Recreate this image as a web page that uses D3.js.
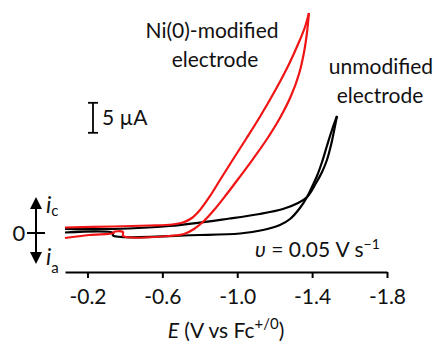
<!DOCTYPE html>
<html>
<head>
<meta charset="utf-8">
<script src="https://cdn.jsdelivr.net/npm/d3@7"></script>
<style>
  body { margin: 0; background: #fff; }
  svg text { font-family: Lato, "Open Sans", sans-serif; fill: #111; }
</style>
</head>
<body>
<svg id="chart" width="439" height="344"></svg>
<script>
// potential (V vs Fc+/0) and current (uA, cathodic positive)
const redForward = [[-0.08,0.92],[-0.34,1.08],[-0.53,1.25],[-0.652,1.42],[-0.71,1.75],[-0.758,2.5],[-0.801,3.83],[-0.855,6.17],[-0.908,8.83],[-0.972,12.0],[-1.047,15.67],[-1.127,19.67],[-1.207,24.0],[-1.277,28.17],[-1.33,31.83],[-1.362,34.33],[-1.383,36.67]]
const redReverse = [[-1.383,36.67],[-1.373,33.5],[-1.357,30.17],[-1.33,26.5],[-1.287,22.83],[-1.228,19.17],[-1.159,15.67],[-1.084,12.33],[-1.009,9.17],[-0.94,6.33],[-0.876,3.83],[-0.822,2.0],[-0.769,0.67],[-0.716,-0.17],[-0.641,-0.5],[-0.39,-0.5],[-0.39,0.17],[-0.34,0.17],[-0.34,0],[-0.21,-0.33],[-0.08,-0.83]]
const blackForward = [[-0.08,0.67],[-0.336,0.67],[-0.64,1.17],[-0.96,2.42],[-1.12,3.17],[-1.244,4.0],[-1.325,5.0],[-1.373,6.0],[-1.421,8.33],[-1.453,10.17],[-1.479,12.17],[-1.501,14.67],[-1.517,17.0],[-1.533,19.5]]
const blackReverse = [[-1.533,19.5],[-1.506,17.17],[-1.479,14.5],[-1.453,11.83],[-1.426,9.5],[-1.399,7.67],[-1.373,6.0],[-1.335,4.17],[-1.282,2.33],[-1.228,1.33],[-1.138,0.5],[-1.015,-0.08],[-0.80,-0.33],[-0.336,-0.42],[-0.336,0],[-0.08,0.08]]
const xTicks = [-0.2, -0.6, -1.0, -1.4, -1.8]

const svg = d3.select("#chart")

const x = d3.scaleLinear().domain([-0.08, -1.8]).range([65, 387])
const y = d3.scaleLinear().domain([-6.5, 37]).range([272, 11])

const line = d3.line()
    .x(d => x(d[0]))
    .y(d => y(d[1]))
    .curve(d3.curveCatmullRom.alpha(0.5))

// curves
const curves = [
    { data: blackForward, color: "#000" },
    { data: blackReverse, color: "#000" },
    { data: redForward, color: "#f01414" },
    { data: redReverse, color: "#f01414" }
]
svg.append("g").selectAll("path")
    .data(curves)
    .enter().append("path")
    .attr("d", d => line(d.data))
    .attr("fill", "none")
    .attr("stroke", d => d.color)
    .attr("stroke-width", 2.2)
    .attr("stroke-linejoin", "round")

// x-axis
const xAxis = svg.append("g")
    .attr("transform", "translate(0," + y(-6.5) + ")")
    .call(d3.axisBottom(x)
        .tickValues(xTicks)
        .tickSize(6)
        .tickSizeOuter(0)
        .tickPadding(11)
        .tickFormat(d => d.toFixed(1)))
xAxis.select(".domain").attr("stroke", "#000").attr("stroke-width", 2)
xAxis.selectAll(".tick line").attr("stroke", "#000").attr("stroke-width", 2)
xAxis.selectAll(".tick text")
    .style("font-family", "Lato, sans-serif")
    .style("font-size", "21px")
    .attr("fill", "#111")

// x-axis label
const xl = svg.append("text")
    .attr("x", 226)
    .attr("y", 338)
    .attr("text-anchor", "middle")
    .style("font-size", "21px")
xl.append("tspan").style("font-style", "italic").text("E")
xl.append("tspan").text("  (V vs Fc")
xl.append("tspan").attr("dy", -9).style("font-size", "15px").text("+/0")
xl.append("tspan").attr("dy", 9).text(")")

// current direction arrow at zero
const ax = 36
const arrow = svg.append("g")
arrow.append("line")
    .attr("x1", ax).attr("x2", ax)
    .attr("y1", y(0) - 28).attr("y2", y(0) + 22)
    .attr("stroke", "#000").attr("stroke-width", 2)
arrow.append("line")
    .attr("x1", ax - 9).attr("x2", ax + 9)
    .attr("y1", y(0)).attr("y2", y(0))
    .attr("stroke", "#000").attr("stroke-width", 2)
arrow.append("path")
    .attr("d", `M${ax},${y(0) - 36}L${ax - 6},${y(0) - 24}L${ax + 6},${y(0) - 24}Z`)
    .attr("fill", "#000")
arrow.append("path")
    .attr("d", `M${ax},${y(0) + 31}L${ax - 6},${y(0) + 19}L${ax + 6},${y(0) + 19}Z`)
    .attr("fill", "#000")
svg.append("text")
    .attr("x", 19).attr("y", y(0) + 8)
    .attr("text-anchor", "middle")
    .style("font-size", "22px")
    .text("0")
const ic = svg.append("text").attr("x", 46).attr("y", y(0) - 20).style("font-size", "23px")
ic.append("tspan").style("font-style", "italic").text("i")
ic.append("tspan").attr("dy", 3).style("font-size", "15px").text("c")
const ia = svg.append("text").attr("x", 46).attr("y", y(0) + 32).style("font-size", "23px")
ia.append("tspan").style("font-style", "italic").text("i")
ia.append("tspan").attr("dy", 8).style("font-size", "15px").text("a")

// 5 uA scale bar
const sbX = 93, sbBase = 16.7, sbLen = 5
const sb = svg.append("g").attr("stroke", "#000").attr("stroke-width", 1.8)
sb.append("line").attr("x1", sbX).attr("x2", sbX).attr("y1", y(sbBase)).attr("y2", y(sbBase + sbLen))
sb.append("line").attr("x1", sbX - 5).attr("x2", sbX + 5).attr("y1", y(sbBase)).attr("y2", y(sbBase))
sb.append("line").attr("x1", sbX - 5).attr("x2", sbX + 5).attr("y1", y(sbBase + sbLen)).attr("y2", y(sbBase + sbLen))
svg.append("text")
    .attr("x", 102).attr("y", y(sbBase + sbLen / 2) + 7)
    .style("font-size", "21px")
    .text("5 µA")

// curve labels
const labels = [
    { t: "Ni(0)-modified", x: 212, y: 38 },
    { t: "electrode", x: 215, y: 67 },
    { t: "unmodified", x: 381, y: 74 },
    { t: "electrode", x: 380, y: 103 }
]
svg.append("g").selectAll("text")
    .data(labels)
    .enter().append("text")
    .attr("x", d => d.x)
    .attr("y", d => d.y)
    .attr("text-anchor", "middle")
    .style("font-size", "21px")
    .text(d => d.t)

// scan rate
const sr = svg.append("text").attr("x", 255).attr("y", 257).style("font-size", "21px")
sr.append("tspan").style("font-style", "italic").text("υ")
sr.append("tspan").text(" = 0.05 V s")
sr.append("tspan").attr("dy", -8).style("font-size", "14px").text("−1")
</script>
</body>
</html>
